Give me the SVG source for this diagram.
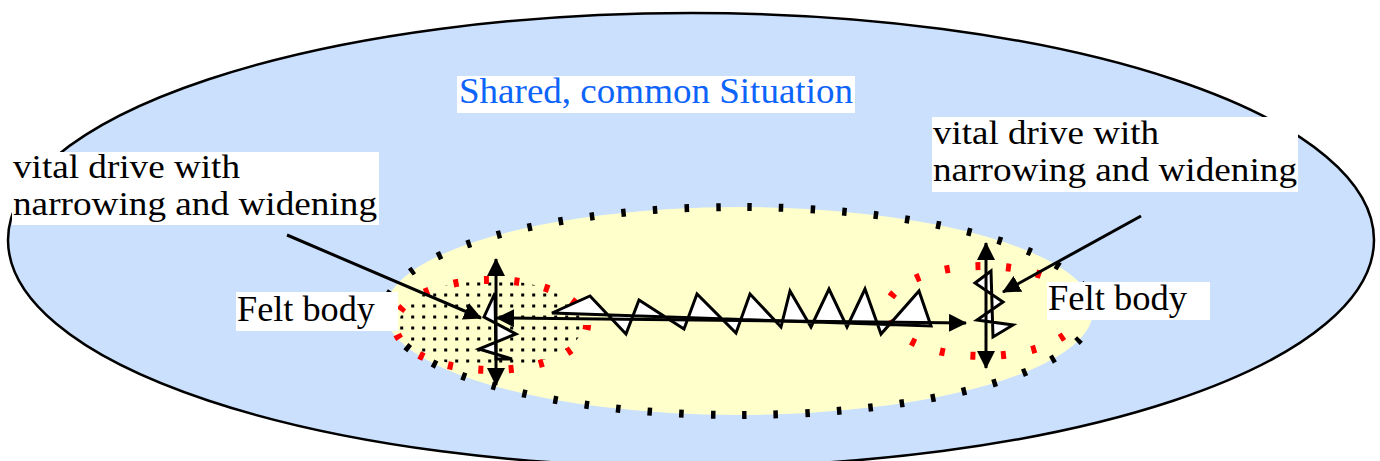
<svg xmlns="http://www.w3.org/2000/svg" width="1380" height="461" viewBox="0 0 1380 461">
<style>
text{font-family:"Liberation Serif","DejaVu Serif","Times New Roman",serif}
.lbl{fill:#000}
.ttl{fill:#0d64fa}
.bg{fill:#fff}
.ln{stroke:#000;stroke-width:3;fill:none}
.zz{stroke:#000;stroke-width:3;fill:#fff;stroke-linejoin:miter}
.red{fill:none;stroke:#f00;stroke-width:8}
</style>
<defs>
<marker id="ah" markerUnits="userSpaceOnUse" markerWidth="18" markerHeight="18" refX="17" refY="9" orient="auto-start-reverse">
<path d="M0,0 L18,9 L0,18 z" fill="#000"/>
</marker>
<pattern id="dots" patternUnits="userSpaceOnUse" x="400.2" y="282.5" width="11" height="11">
<rect x="0" y="0" width="3" height="3" fill="#000"/>
</pattern>
<clipPath id="clipL"><ellipse cx="491" cy="324" rx="92" ry="44"/></clipPath>
</defs>

<g id="situation">
<ellipse cx="691" cy="240" rx="683" ry="227" fill="#cbe0fd" stroke="#000" stroke-width="2.5"/>
</g>

<g id="shared-field">
<ellipse cx="739" cy="311" rx="354" ry="104" fill="#ffffcc"/>
<ellipse cx="739" cy="311" rx="354" ry="104" fill="none" stroke="#000" stroke-width="8" stroke-dasharray="4.5 27.1"/>
</g>

<g id="felt-body-left-area">
<rect x="395" y="278" width="195" height="95" fill="url(#dots)" clip-path="url(#clipL)"/>
<ellipse cx="491" cy="325" rx="96" ry="45" class="red" stroke-dasharray="5 25.5"/>
</g>

<g id="felt-body-right-area">
<ellipse cx="983" cy="311" rx="97" ry="45" class="red" stroke-dasharray="5 25.7"/>
</g>

<g id="connectors">
<polygon class="zz" points="552,313 590,296 626,334 639,300 684,329 697,294 736,333 750,294 781,327 790,291 811,327 829,289 847,327 865,289 881,334 919,291 931,326"/>
<polygon class="zz" points="495,293 484,317 516,334 479,349 512,359 496,359"/>
<polygon class="zz" points="991,271 975,283 1003,302 977,320 1013,325 993,337"/>
<line class="ln" x1="497" y1="318" x2="966" y2="323" marker-start="url(#ah)" marker-end="url(#ah)"/>
<line class="ln" x1="496" y1="259" x2="496" y2="385" marker-start="url(#ah)" marker-end="url(#ah)"/>
<line class="ln" x1="986" y1="243" x2="986" y2="368" marker-start="url(#ah)" marker-end="url(#ah)"/>
<line class="ln" stroke-width="2.5" x1="287" y1="235" x2="481" y2="318" marker-end="url(#ah)"/>
<line class="ln" stroke-width="2.5" x1="1141" y1="216" x2="1003" y2="292" marker-end="url(#ah)"/>
</g>

<g id="title">
<rect class="bg" x="457" y="76" width="398" height="37"/>
<text class="ttl" font-family="Liberation Serif, DejaVu Serif, serif" x="459" y="103" font-size="36" textLength="394" lengthAdjust="spacingAndGlyphs">Shared, common Situation</text>
</g>

<g id="label-left">
<rect class="bg" x="12" y="152" width="367" height="73"/>
<text class="lbl" font-family="Liberation Serif, DejaVu Serif, serif" x="13" y="178" font-size="33" textLength="227" lengthAdjust="spacingAndGlyphs">vital drive with</text>
<text class="lbl" font-family="Liberation Serif, DejaVu Serif, serif" x="13" y="215" font-size="33" textLength="364" lengthAdjust="spacingAndGlyphs">narrowing and widening</text>
</g>

<g id="label-right">
<rect class="bg" x="932" y="117" width="366" height="75"/>
<text class="lbl" font-family="Liberation Serif, DejaVu Serif, serif" x="933" y="144" font-size="33" textLength="226" lengthAdjust="spacingAndGlyphs">vital drive with</text>
<text class="lbl" font-family="Liberation Serif, DejaVu Serif, serif" x="933" y="181" font-size="33" textLength="364" lengthAdjust="spacingAndGlyphs">narrowing and widening</text>
</g>

<g id="felt-body-left">
<rect class="bg" x="236" y="292" width="162" height="39"/>
<text class="lbl" font-family="Liberation Serif, DejaVu Serif, serif" x="237" y="321" font-size="36" textLength="138" lengthAdjust="spacingAndGlyphs">Felt body</text>
</g>

<g id="felt-body-right">
<rect class="bg" x="1047" y="282" width="163" height="38"/>
<text class="lbl" font-family="Liberation Serif, DejaVu Serif, serif" x="1048" y="310" font-size="36" textLength="139" lengthAdjust="spacingAndGlyphs">Felt body</text>
</g>
</svg>
